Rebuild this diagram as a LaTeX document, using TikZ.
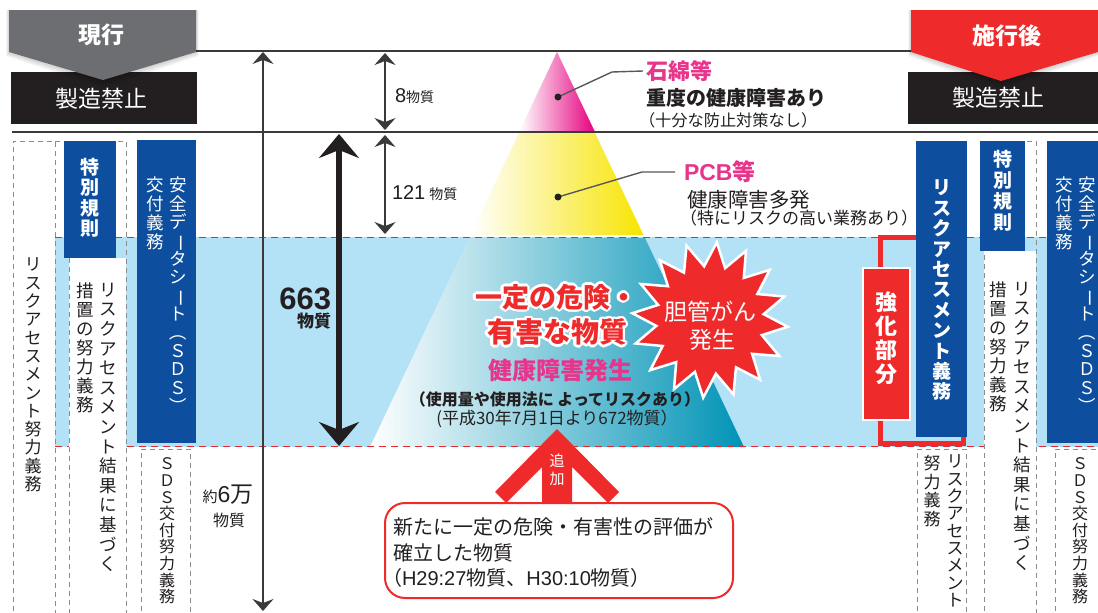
\documentclass[tikz,border=0pt]{standalone}
\usepackage{fontspec}
\setmainfont{Noto Sans CJK JP}
\newfontfamily\lat{Liberation Sans}
\usetikzlibrary{arrows.meta,calc}
\definecolor{tabgray}{HTML}{6D6E71}
\definecolor{tabred}{HTML}{EE2A2B}
\definecolor{ink}{HTML}{231F20}
\definecolor{navy}{HTML}{0D4F9E}
\definecolor{band}{HTML}{B3E1F6}
\definecolor{mag}{HTML}{E5007F}
\definecolor{magmid}{HTML}{EC5A9F}
\definecolor{magtxt}{HTML}{E8358C}
\definecolor{ylw}{HTML}{F7E400}
\definecolor{ylwmid}{HTML}{F9EC5E}
\definecolor{pteal}{HTML}{0093B6}
\definecolor{ptealmid}{HTML}{2BAACB}
\definecolor{lgray}{HTML}{3A3A3A}
\definecolor{dgray}{HTML}{8C8C8C}
\definecolor{rdash}{HTML}{E8262B}
\newcommand\fsz[1]{\fontsize{#1}{#1}\selectfont}
\makeatletter
\def\vt@aux#1{\ifx\relax#1\else\hbox to 1.15em{\hss#1\hss}\expandafter\vt@aux\fi}
\newcommand\vtext[2]{\vbox{\baselineskip=#1pt\lineskiplimit=-100pt\lineskip=0pt\vt@aux#2\relax}}
\makeatother
\newcommand\vl{\rotatebox[origin=c]{-90}{ー}}
\newcommand\vpo{\rotatebox[origin=c]{-90}{（}}
\newcommand\vpc{\rotatebox[origin=c]{-90}{）}}
\newcommand\outl[1]{\foreach \a in {0,22.5,...,337.5}{\pgfmathsetlengthmacro\dxx{2.4pt*cos(\a)}\pgfmathsetlengthmacro\dyy{2.4pt*sin(\a)}\rlap{\kern\dxx\raisebox{\dyy}{\color{white}#1}}}#1}
\begin{document}
\begin{tikzpicture}[x=1pt,y=-1pt,
  every node/.style={inner sep=0pt,outer sep=0pt},
  gdash/.style={draw=dgray,line width=0.9pt,dash pattern=on 5pt off 4pt},
  rline/.style={draw=rdash,line width=1.2pt,dash pattern=on 7pt off 5pt},
  hline/.style={draw=lgray,line width=1.5pt},
  thinarr/.style={draw=lgray,line width=1.6pt,>={Stealth[length=12pt,width=21pt,inset=4pt]},<->},
  thickarr/.style={draw=ink,line width=6pt,>={Stealth[length=24pt,width=40pt,inset=8pt]},<->},
  leader/.style={draw=lgray!85,line width=1.4pt},
  vt/.style={anchor=north},
  tabshadow/.style={fill=black,opacity=0.045},
]
\useasboundingbox (0,0) rectangle (1098,613);
\clip (0,0) rectangle (1098,613);
\fill[white] (0,0) rectangle (1098,613);
% band
\fill[band] (55,237) rectangle (1098,447);
% pyramid
\coordinate (apex) at (557,52);
\shade[left color=white,middle color=magmid,right color=mag] (apex) -- (594.5,131) -- (519.5,131) -- cycle;
\shade[left color=white,middle color=ylwmid,right color=ylw] (519,133) -- (595,133) -- (643.5,235) -- (470.5,235) -- cycle;
\shade[left color=white,middle color=ptealmid,right color=pteal] (469,238) -- (645,238) -- (744,447) -- (370,447) -- cycle;
% red dashed band borders
\draw[rline] (55,237.5) -- (1098,237.5);
\draw[rline] (55,446.5) -- (1098,446.5);
% white columns
\fill[white] (69,258) rectangle (126,613);
\fill[white] (984,251) rectangle (1036,613);
% dashed column borders
\draw[gdash] (13,620) -- (13,141) -- (55,141) -- (55,620);
\draw[gdash] (55,141) -- (126,141) -- (126,620);
\draw[gdash] (69,258) -- (69,620);
\draw[gdash] (141,620) -- (141,449) -- (190,449) -- (190,620);
\draw[gdash] (917,620) -- (917,449) -- (966,449) -- (966,620);
\draw[gdash] (984,620) -- (984,141) -- (1036,141) -- (1036,620);
\draw[gdash] (1055,620) -- (1055,449) -- (1100,449);
% red bracket
\draw[tabred,line width=5pt] (963,437) -- (963,443.5) -- (880,443.5) -- (880,237.5) -- (935,237.5);
% blue boxes
\fill[navy] (64,141) rectangle (116,258);
\fill[navy] (137,140) rectangle (196,443);
\fill[navy] (916,141) rectangle (967,437);
\fill[navy] (980,141) rectangle (1025,251);
\fill[navy] (1047,141) rectangle (1098,443);
% strengthened part box
\draw[fill=tabred,draw=white,line width=2pt] (863,268) rectangle (910,420);
% horizontal lines
\draw[hline] (10,51) -- (1098,51);
\draw[hline] (12,132) -- (1098,132);
% black boxes and tabs
\fill[ink] (11,72) rectangle (197,124);
\fill[ink] (908,72) rectangle (1098,124);
\foreach \s in {2,4,6,8}{
  \fill[tabshadow] (9-\s/3,10) -- (196+\s/3,10) -- (196+\s/3,52+\s/2) -- (103,80+\s) -- (9-\s/3,52+\s/2) -- cycle;
  \fill[tabshadow] (911-\s/3,10) -- (1098,10) -- (1098,52+\s/2) -- (1001,81+\s) -- (911-\s/3,52+\s/2) -- cycle;
}
\fill[tabgray] (9,10) -- (196,10) -- (196,52) -- (103,80) -- (9,52) -- cycle;
\fill[tabred] (911,10) -- (1098,10) -- (1098,52) -- (1001,81) -- (911,52) -- cycle;
\node[text=white,font=\bfseries\fsz{23}] (genko) at (101,35) {現行};
\node[text=white,font=\fsz{23}] (seizoL) at (101,99) {製造禁止};
\node[text=white,font=\bfseries\fsz{23}] (sekou) at (1007,36) {施行後};
\node[text=white,font=\fsz{23}] (seizoR) at (998,98) {製造禁止};
% arrows
\coordinate (a1t) at (263,52); \coordinate (a1b) at (263,611);
\coordinate (a8t) at (385,53); \coordinate (a8b) at (385,130);
\coordinate (a121t) at (385,135); \coordinate (a121b) at (385,234);
\coordinate (a663t) at (339,134); \coordinate (a663b) at (339,446);
\draw[thinarr] (a1t) -- (a1b);
\draw[thinarr] (a8t) -- (a8b);
\draw[thinarr] (a121t) -- (a121b);
\draw[thickarr] (a663t) -- (a663b);
\node[anchor=west,text=ink] (n8) at (395,96) {\fsz{20}\lat 8\normalfont\fsz{14}物質};
\node[anchor=west,text=ink] (n121) at (392,193) {\fsz{20}\lat 121\hspace{4pt}\normalfont\fsz{14}物質};
\node[anchor=east,text=ink,font=\lat\bfseries\fsz{31}] (n663) at (331,299) {663};
\node[anchor=east,text=ink,font=\bfseries\fsz{17}] (n663b) at (331,321) {物質};
\node[text=ink] (n6man) at (228,495) {\fsz{15}約\fsz{23}{\lat 6}万};
\node[text=ink,font=\fsz{16}] (n6manb) at (229,520) {物質};
% pyramid labels
\node[anchor=west,text=magtxt,font=\bfseries\fsz{22}] (ishi) at (646,71) {石綿等};
\node[anchor=west,text=ink,font=\bfseries\fsz{20}] (jyudo) at (646,98) {重度の健康障害あり};
\node[anchor=west,text=ink,font=\fsz{16.2}] (jyubun) at (639,120) {（十分な防止対策なし）};
\node[anchor=west,text=magtxt,font=\bfseries\fsz{23}] (pcb) at (684,172) {{\lat PCB}等};
\node[anchor=west,text=ink,font=\fsz{20.5}] (tahatsu) at (687,200) {健康障害多発};
\node[anchor=west,text=ink,font=\fsz{17}] (tokuni) at (680,218) {（特にリスクの高い業務あり）};
\coordinate (d1) at (558,97); \coordinate (d2) at (558,197);
\draw[leader] (d1) -- (612,72) -- ($(ishi.west)+(-3,0)$);
\draw[leader] (d2) -- (642,172) -- ($(pcb.west)+(-9,0)$);
\fill[ink] (d1) circle (3.5);
\fill[ink] (d2) circle (3.5);
% starburst
\filldraw[fill=tabred,draw=white,line width=2.5pt] plot[samples at={0,...,31},variable=\t] ({710+ifthenelse(mod(\t,2)==0,78,54)*cos(\t*11.25+5)},{320+ifthenelse(mod(\t,2)==0,78,54)*sin(\t*11.25+5)}) -- cycle;
\node[text=white,font=\fsz{23}] (tan1) at (710,312) {胆管がん};
\node[text=white,font=\fsz{23}] (tan2) at (712,340) {発生};
% central texts
\node[text=tabred,font=\bfseries\fsz{27}] (kiken1) at (556,297) {\outl{一定の危険・}};
\node[text=tabred,font=\bfseries\fsz{28}] (kiken2) at (557,332) {\outl{有害な物質}};
\node[text=magtxt,font=\bfseries\fsz{24}] (kenko) at (560,370) {健康障害発生};
\node[text=ink,font=\bfseries\fsz{16}] (shiyo) at (555,399) {（使用量や使用法に よってリスクあり）};
\node[text=ink,font=\fsz{17}] (heisei) at (557,419) {(平成30年7月1日より672物質）};
% add arrow
\fill[tabred] (557,429) -- (619,492) -- (608,503) -- (572,467) -- (572,504) -- (542,504) -- (542,467) -- (506,503) -- (495,492) -- cycle;
\node[vt,text=white,font=\fsz{15}] (tsuika) at (557,454) {\vtext{18}{追加}};
% rounded box
\draw[tabred,line width=2pt,fill=white,rounded corners=20pt] (385,503) rectangle (733,598);
\node[anchor=west,text=ink,font=\fsz{20}] (bx1) at (393,527) {新たに一定の危険・有害性の評価が};
\node[anchor=west,text=ink,font=\fsz{20}] (bx2) at (393,553) {確立した物質};
\node[anchor=west,text=ink,font=\fsz{20}] (bx3) at (382,578) {（{\lat H29:27}物質、{\lat H30:10}物質）};
% vertical texts left
\node[vt,text=ink,font=\fsz{17}] (lra) at (33,258) {\vtext{18.3}{リスクアセスメント努力義務}};
\node[vt,text=white,font=\bfseries\fsz{19}] (ltoku) at (90,158) {\vtext{20.5}{特別規則}};
\node[vt,text=ink,font=\fsz{17.5}] (lkekka) at (108,283) {\vtext{19.6}{リスクアセスメント結果に基づく}};
\node[vt,text=ink,font=\fsz{17.5}] (lsochi) at (85,283) {\vtext{19}{措置の努力義務}};
\node[vt,text=white,font=\fsz{17.5}] (lsds1) at (178,177) {\vtext{18.4}{安全デ\vl タシ\vl ト\vpo ＳＤＳ\vpc}};
\node[vt,text=white,font=\fsz{17.5}] (lsds2) at (155,177) {\vtext{18.8}{交付義務}};
\node[vt,text=ink,font=\fsz{16}] (lsdsd) at (167,458) {\vtext{16.6}{ＳＤＳ交付努力義務}};
% vertical texts right
\node[vt,text=white,font=\bfseries\fsz{19}] (rrisk) at (942,180) {\vtext{20.4}{リスクアセスメント義務}};
\node[vt,text=white,font=\bfseries\fsz{19}] (rtoku) at (1003,150) {\vtext{21}{特別規則}};
\node[vt,text=ink,font=\fsz{17.5}] (rkekka) at (1022,282) {\vtext{19.6}{リスクアセスメント結果に基づく}};
\node[vt,text=ink,font=\fsz{17.5}] (rsochi) at (998,282) {\vtext{19}{措置の努力義務}};
\node[vt,text=white,font=\fsz{17.5}] (rsds1) at (1087,177) {\vtext{18.4}{安全デ\vl タシ\vl ト\vpo ＳＤＳ\vpc}};
\node[vt,text=white,font=\fsz{17.5}] (rsds2) at (1064,177) {\vtext{18.8}{交付義務}};
\node[vt,text=ink,font=\fsz{17}] (rra) at (955,455) {\vtext{17.3}{リスクアセスメント}};
\node[vt,text=ink,font=\fsz{17}] (rdo) at (932,455) {\vtext{18.7}{努力義務}};
\node[vt,text=ink,font=\fsz{16}] (rsdsd) at (1080,458) {\vtext{16.6}{ＳＤＳ交付努力義務}};
\node[vt,text=white,font=\bfseries\fsz{22}] (kyoka) at (886.5,292) {\vtext{24}{強化部分}};
\end{tikzpicture}
\end{document}
